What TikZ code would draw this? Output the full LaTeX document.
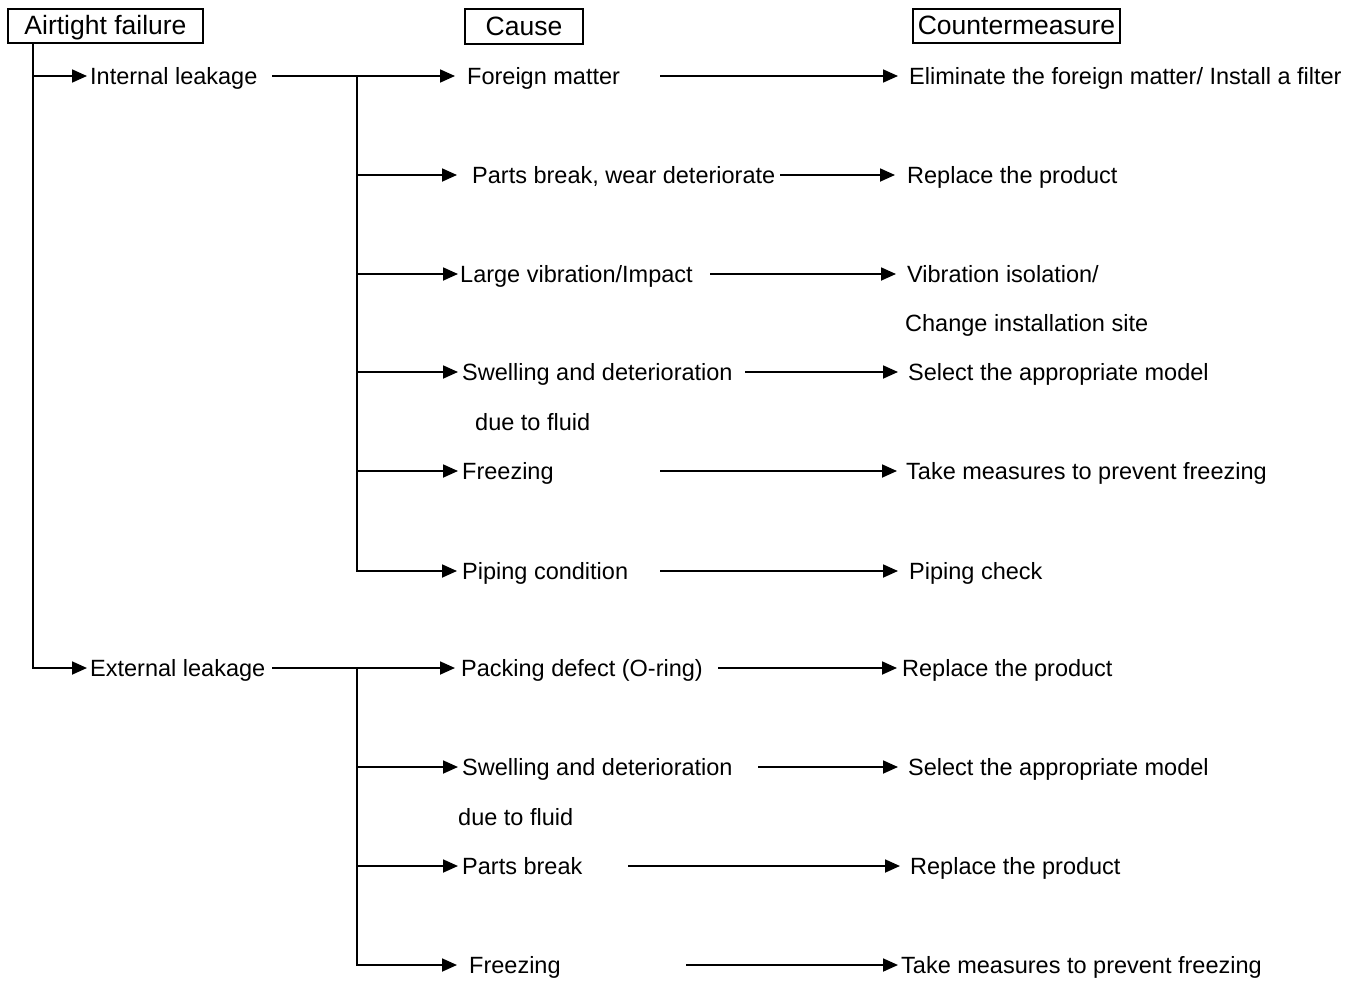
\documentclass[tikz,border=0pt]{standalone}
\usepackage{fontspec}
\setmainfont{Liberation Sans}
\usetikzlibrary{arrows.meta}
\begin{document}
\begin{tikzpicture}[x=1pt,y=-1pt,
  lbl/.style={anchor=west, inner sep=0pt, text height=17pt, text depth=0pt, font=\fontsize{23.5}{28}\selectfont},
  hdr/.style={draw, line width=1.8pt, inner sep=0pt, text height=18pt, text depth=0pt, font=\fontsize{26.5}{30}\selectfont},
  arr/.style={line width=1.8pt, -{Triangle[length=15pt,width=13pt]}}]
\useasboundingbox[fill=white] (0,0) rectangle (1351,982);
% headers
\node[hdr, minimum width=195pt, minimum height=34pt] (af) at (105.5,26) {Airtight failure};
\node[hdr, minimum width=118pt, minimum height=35pt] (ca) at (524,26.5) {Cause};
\node[hdr, minimum width=207pt, minimum height=34pt] (cm) at (1016.5,26) {Countermeasure};
% level 1
\node[lbl] (il) at (90,76) {Internal leakage};
\node[lbl] (el) at (90,668) {External leakage};
% causes (internal)
\node[lbl] (fm) at (467,76) {Foreign matter};
\node[lbl] (pb) at (472,175) {Parts break, wear deteriorate};
\node[lbl] (lv) at (460,274) {Large vibration/Impact};
\node[lbl] (sw1) at (462,372) {Swelling and deterioration};
\node[lbl] (sw1b) at (475,422) {due to fluid};
\node[lbl] (fr1) at (462,471) {Freezing};
\node[lbl] (pc) at (462,571) {Piping condition};
% causes (external)
\node[lbl] (pd) at (461,668) {Packing defect (O-ring)};
\node[lbl] (sw2) at (462,767) {Swelling and deterioration};
\node[lbl] (sw2b) at (458,817) {due to fluid};
\node[lbl] (pb2) at (462,866) {Parts break};
\node[lbl] (fr2) at (469,965) {Freezing};
% countermeasures
\node[lbl] (c1) at (909,76) {Eliminate the foreign matter/ Install a filter};
\node[lbl] (c2) at (907,175) {Replace the product};
\node[lbl] (c3) at (907,274) {Vibration isolation/};
\node[lbl] (c3b) at (905,323) {Change installation site};
\node[lbl] (c4) at (908,372) {Select the appropriate model};
\node[lbl] (c5) at (906,471) {Take measures to prevent freezing};
\node[lbl] (c6) at (909,571) {Piping check};
\node[lbl] (c7) at (902,668) {Replace the product};
\node[lbl] (c8) at (908,767) {Select the appropriate model};
\node[lbl] (c9) at (910,866) {Replace the product};
\node[lbl] (c10) at (901,965) {Take measures to prevent freezing};
% trunk
\coordinate (tx) at (33,0);
\draw[arr] (af.south -| tx) |- ([xshift=-3pt]il.west);
\draw[arr] (af.south -| tx) |- ([xshift=-3pt]el.west);
% level-1 to causes
\coordinate (s1) at (272,76);
\coordinate (s2) at (272,668);
\draw[arr] (s1) -- ([xshift=-12pt]fm.west);
\draw[arr] (s2) -- ([xshift=-6pt]pd.west);
\coordinate (b1) at (357,76);
\coordinate (b2) at (357,668);
\draw[arr] (b1) |- ([xshift=-5pt]pc.west);
\draw[arr] (b1 |- pb.west) -- ([xshift=-15pt]pb.west);
\draw[arr] (b1 |- lv.west) -- ([xshift=-2pt]lv.west);
\draw[arr] (b1 |- sw1.west) -- ([xshift=-4pt]sw1.west);
\draw[arr] (b1 |- fr1.west) -- ([xshift=-4pt]fr1.west);
\draw[arr] (b2) |- ([xshift=-12pt]fr2.west);
\draw[arr] (b2 |- sw2.west) -- ([xshift=-4pt]sw2.west);
\draw[arr] (b2 |- pb2.west) -- ([xshift=-4pt]pb2.west);
% causes to countermeasures
\coordinate (r1) at (660,76);
\coordinate (r2) at (780,175);
\coordinate (r3) at (710,274);
\coordinate (r4) at (745,372);
\coordinate (r5) at (660,471);
\coordinate (r6) at (660,571);
\coordinate (r7) at (718,668);
\coordinate (r8) at (758,767);
\coordinate (r9) at (628,866);
\coordinate (r10) at (686,965);
\draw[arr] (r1) -- ([xshift=-11pt]c1.west);
\draw[arr] (r2) -- ([xshift=-12pt]c2.west);
\draw[arr] (r3) -- ([xshift=-11pt]c3.west);
\draw[arr] (r4) -- ([xshift=-10pt]c4.west);
\draw[arr] (r5) -- ([xshift=-9pt]c5.west);
\draw[arr] (r6) -- ([xshift=-11pt]c6.west);
\draw[arr] (r7) -- ([xshift=-5pt]c7.west);
\draw[arr] (r8) -- ([xshift=-10pt]c8.west);
\draw[arr] (r9) -- ([xshift=-10pt]c9.west);
\draw[arr] (r10) -- ([xshift=-3pt]c10.west);
\end{tikzpicture}
\end{document}
